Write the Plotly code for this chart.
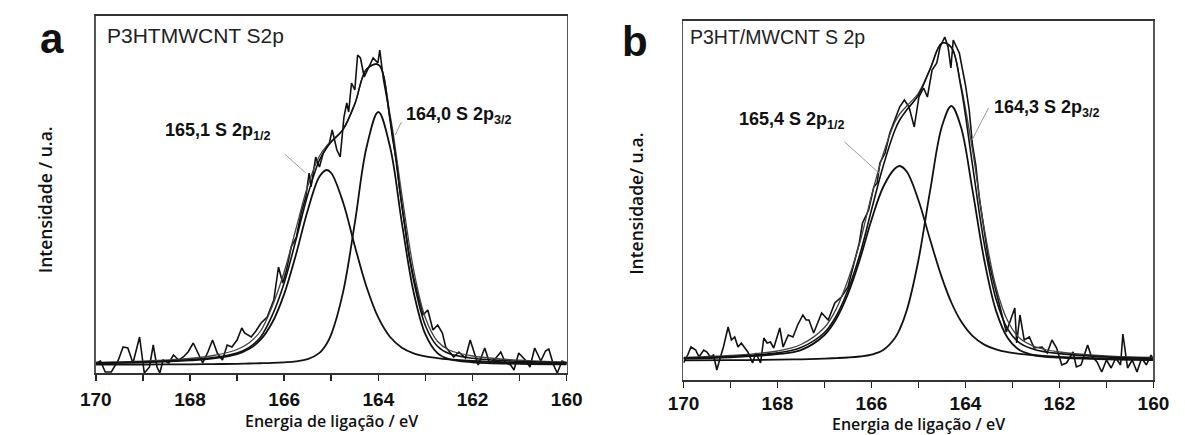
import plotly.graph_objects as go

# ---------------- Panel a : P3HTMWCNT S2p ----------------
E_A = [170, 169, 168, 167.5, 167, 166.75, 166.5, 166.25, 166, 165.75, 165.5, 165.25, 165.1, 165.0,
       164.75, 164.5, 164.25, 164.0, 163.75, 163.5, 163.25, 163.0, 162.75, 162.5, 162, 161, 160]
P1_A = [9.7, 10.6, 12.6, 14.6, 18.9, 23.9, 33.3, 50.7, 78.9, 118.3, 162.5, 196.4, 203, 200,
        170.8, 127.1, 86.0, 55.3, 36.0, 25.3, 19.7, 16.7, 14.9, 13.6, 12.0, 10.4, 9.5]
P2_A = [8.3, 8.5, 8.7, 8.9, 9.2, 9.5, 9.75, 10.1, 10.7, 11.6, 13.8, 20.1, 29, 38.6,
        80.6, 149.9, 225.8, 261, 225.8, 149.9, 80.6, 38.6, 20.1, 13.8, 10.7, 9.2, 8.7]
ENV_A = [10.0, 11.1, 13.3, 15.5, 20.1, 25.4, 36, 58, 90, 133, 178, 213, 225, 231,
         243.4, 269.0, 303.8, 308.3, 253.8, 167.2, 92.3, 47.3, 27.0, 19.4, 14.7, 11.6, 10.2]
ENV2_A = [10.5, 11.8, 14.5, 17.5, 23.5, 30, 42, 67, 101, 144, 187, 217, 227, 232,
          244, 269.2, 304, 308.5, 258, 178, 103, 55, 32, 23, 17, 12.8, 10.8]

DATA_E_A = [170.00, 169.90, 169.80, 169.67, 169.52, 169.42, 169.32, 169.21, 169.07, 168.97, 168.86,
            168.78, 168.70, 168.64, 168.57, 168.45, 168.35, 168.24, 168.14, 168.04, 167.93, 167.83,
            167.73, 167.62, 167.52, 167.42, 167.31, 167.21, 167.11, 167.00, 166.90, 166.84, 166.70,
            166.60, 166.49, 166.36, 166.22, 166.12, 166.03, 165.95, 165.85, 165.74, 165.64, 165.54,
            165.47, 165.43, 165.33, 165.25, 165.17, 165.04, 164.98, 164.88, 164.81, 164.73, 164.67,
            164.63, 164.57, 164.50, 164.44, 164.38, 164.30, 164.21, 164.11, 164.01, 163.97, 163.89,
            163.80, 163.70, 163.60, 163.55, 163.45, 163.35, 163.25, 163.15, 163.05, 162.95, 162.84,
            162.74, 162.64, 162.57, 162.40, 162.29, 162.15, 162.05, 161.95, 161.88, 161.74, 161.64,
            161.54, 161.40, 161.30, 161.19, 161.12, 161.02, 160.88, 160.78, 160.68, 160.55, 160.45,
            160.38, 160.28, 160.20, 160.10, 160.00]
DATA_I_A = [10, 12, 1, 1, 13, 26, 25, 10, 36, 0, 6,
            28, 6, 0, 13, 10, 18, 13, 16, 21, 30, 20,
            10, 21, 33, 20, 13, 28, 26, 33, 45, 40, 36,
            42, 50, 56, 73, 106, 90, 103, 126, 136, 160, 176,
            200, 186, 216, 206, 220, 230, 243, 223, 216, 256, 270,
            261, 290, 283, 318, 315, 296, 305, 315, 310, 323, 293,
            270, 235, 208, 185, 150, 118, 95, 75, 58, 63, 43,
            48, 40, 26, 16, 21, 15, 33, 18, 8, 25, 10,
            13, 21, 10, 8, 3, 20, 13, 6, 25, 12, 22,
            24, 8, 0, 12, 10]

# ---------------- Panel b : P3HT/MWCNT S 2p ----------------
E_B = [170, 169, 168, 167.5, 167, 166.75, 166.5, 166.25, 166, 165.75, 165.5, 165.4, 165.25, 165.0,
       164.75, 164.5, 164.3, 164.1, 163.85, 163.6, 163.35, 163.1, 162.85, 162.5, 162, 161, 160]
P1_B = [21.3, 22.7, 25.8, 29.9, 45, 61, 86, 120, 160, 193, 211.5, 214, 208.5, 179.8,
        140.0, 102.1, 77.5, 59.2, 44.1, 35.4, 30.6, 27.8, 26.1, 24.5, 23.1, 21.5, 20.7]
P2_B = [19.6, 19.8, 20.3, 20.7, 21.4, 21.9, 22.5, 23.5, 25.4, 30.0, 42.0, 50.5, 69.4, 120.0,
        189.8, 253.8, 274, 253.8, 189.8, 120.0, 69.4, 42.0, 30.0, 24.5, 22.3, 20.6, 20.0]
ENV_B = [21.9, 23.5, 27.1, 32.5, 47.5, 64, 90, 125, 170, 214, 250, 260, 270, 285,
         311, 336.9, 332.5, 294.0, 214.9, 136.4, 81.0, 50.8, 37.1, 30.0, 26.4, 23.1, 21.7]
ENV2_B = [22.5, 24.5, 29, 35.5, 52.5, 71, 100, 137, 184, 226, 258, 266, 274, 287,
          311.5, 337, 332.8, 296, 230, 151.5, 93, 59, 42, 33, 28, 24, 22.5]

DATA_E_B = [170.00, 169.91, 169.84, 169.74, 169.67, 169.57, 169.50, 169.43, 169.36, 169.29, 169.22,
            169.15, 169.05, 168.98, 168.91, 168.84, 168.77, 168.70, 168.63, 168.53, 168.46, 168.36,
            168.29, 168.22, 168.15, 168.08, 167.95, 167.88, 167.77, 167.67, 167.57, 167.46, 167.39,
            167.33, 167.26, 167.23, 167.06, 166.92, 166.78, 166.64, 166.50, 166.37, 166.26, 166.19,
            166.06, 165.95, 165.88, 165.82, 165.71, 165.61, 165.51, 165.40, 165.30, 165.20, 165.09,
            164.99, 164.89, 164.81, 164.71, 164.61, 164.54, 164.44, 164.37, 164.31, 164.26, 164.13,
            164.00, 163.92, 163.85, 163.78, 163.70, 163.60, 163.50, 163.40, 163.30, 163.20, 163.13,
            162.95, 162.91, 162.84, 162.75, 162.64, 162.54, 162.37, 162.26, 162.16, 162.06, 161.95,
            161.85, 161.71, 161.64, 161.54, 161.40, 161.33, 161.20, 161.10, 161.00, 160.90, 160.80,
            160.70, 160.65, 160.55, 160.45, 160.35, 160.25, 160.15, 160.05, 160.00]
DATA_I_B = [17, 25, 33, 30, 23, 30, 28, 23, 25, 10, 22,
            33, 53, 40, 43, 33, 37, 33, 28, 17, 27, 17,
            42, 37, 38, 32, 52, 33, 45, 43, 55, 65, 60,
            60, 50, 47, 67, 60, 77, 83, 93, 117, 137, 157,
            170, 193, 197, 217, 227, 247, 260, 273, 280, 273, 253,
            283, 292, 283, 310, 317, 333, 343, 333, 312, 340, 327,
            295, 270, 235, 215, 180, 148, 118, 98, 80, 62, 48,
            72, 37, 65, 40, 43, 32, 33, 27, 40, 32, 15,
            17, 28, 13, 15, 35, 25, 18, 8, 20, 12, 22,
            15, 46, 12, 20, 8, 22, 15, 25, 20]

X_TICKS = [170, 168, 166, 164, 162, 160]
X_MINOR = [169, 167, 165, 163, 161]
X_TITLE = "Energia de ligação / eV"
Y_TITLE_A = "Intensidade / u.a."
Y_TITLE_B = "Intensidade/ u.a."

W, H = 1185, 435


def px(x):
    return x / W


def py(y):
    return 1 - y / H


fig = go.Figure()
BLACK = "#111111"


def add_panel(xa, ya, E, P1, P2, ENV, ENV2, DE, DI):
    fig.add_trace(go.Scatter(x=DE, y=DI, mode="lines", line=dict(color=BLACK, width=1.6),
                             xaxis=xa, yaxis=ya, hoverinfo="skip"))
    fig.add_trace(go.Scatter(x=E, y=ENV2, mode="lines", line=dict(color="#444444", width=1.3, shape="spline"),
                             xaxis=xa, yaxis=ya, hoverinfo="skip"))
    fig.add_trace(go.Scatter(x=E, y=ENV, mode="lines", line=dict(color=BLACK, width=1.6, shape="spline"),
                             xaxis=xa, yaxis=ya, hoverinfo="skip"))
    fig.add_trace(go.Scatter(x=E, y=P1, mode="lines", line=dict(color=BLACK, width=1.8, shape="spline"),
                             xaxis=xa, yaxis=ya, hoverinfo="skip"))
    fig.add_trace(go.Scatter(x=E, y=P2, mode="lines", line=dict(color=BLACK, width=1.8, shape="spline"),
                             xaxis=xa, yaxis=ya, hoverinfo="skip"))


add_panel("x", "y", E_A, P1_A, P2_A, ENV_A, ENV2_A, DATA_E_A, DATA_I_A)
add_panel("x2", "y2", E_B, P1_B, P2_B, ENV_B, ENV2_B, DATA_E_B, DATA_I_B)

tickfont = dict(family="Liberation Sans, Arial, sans-serif", size=19, color=BLACK, weight="bold")


def xaxis_cfg(domain, anchor, standoff):
    return dict(domain=domain, anchor=anchor, range=[170, 160], tickvals=X_TICKS,
                ticks="outside", ticklen=6, tickwidth=1.5, tickcolor="#222", ticklabelstandoff=standoff,
                minor=dict(tickvals=X_MINOR, ticks="outside", ticklen=6,
                           tickwidth=1.5, tickcolor="#222"),
                showline=True, linecolor="#333", linewidth=1.6, mirror=True,
                showgrid=False, zeroline=False, tickfont=tickfont, fixedrange=True)


def yaxis_cfg(domain, anchor, rng):
    return dict(domain=domain, anchor=anchor, range=rng, showticklabels=False, ticks="",
                showline=True, linecolor="#555", linewidth=1.6, mirror=True,
                showgrid=False, zeroline=False, fixedrange=True)


fig.update_layout(
    width=W, height=H, margin=dict(l=0, r=0, t=0, b=0),
    paper_bgcolor="white", plot_bgcolor="white", showlegend=False,
    xaxis=xaxis_cfg([px(82), px(566)], "y", 3),
    yaxis=yaxis_cfg([py(373), py(16)], "x", [0, 357]),
    xaxis2=xaxis_cfg([px(686), px(1169)], "y2", 0),
    yaxis2=yaxis_cfg([py(380), py(21)], "x2", [0, 359]),
)

ann = []
big = dict(family="Liberation Sans, Arial, sans-serif", size=42, color=BLACK, weight="bold")
ann.append(dict(text="a", x=px(37), y=py(39), xref="paper", yref="paper", showarrow=False,
                font=big, xanchor="center", yanchor="middle"))
ann.append(dict(text="b", x=px(636), y=py(41), xref="paper", yref="paper", showarrow=False,
                font=big, xanchor="center", yanchor="middle"))

ttl = dict(family="Liberation Sans, Arial, sans-serif", size=21, color="#222")
ann.append(dict(text="P3HTMWCNT S2p", x=px(91), y=py(36), xref="paper", yref="paper", showarrow=False,
                font=ttl, xanchor="left", yanchor="middle"))
ann.append(dict(text="P3HT/MWCNT S 2p", x=px(691), y=py(37), xref="paper", yref="paper", showarrow=False,
                font=dict(ttl, size=19.5), xanchor="left", yanchor="middle"))

lab = dict(family="Liberation Sans, Arial, sans-serif", size=18, color=BLACK)
ann.append(dict(text="<b>165,1 S 2p<sub>1/2</sub></b>", x=px(151), y=py(131), xref="paper", yref="paper",
                showarrow=False, font=lab, xanchor="left", yanchor="middle"))
ann.append(dict(text="<b>164,0 S 2p<sub>3/2</sub></b>", x=px(399), y=py(116), xref="paper", yref="paper",
                showarrow=False, font=lab, xanchor="left", yanchor="middle"))
ann.append(dict(text="<b>165,4 S 2p<sub>1/2</sub></b>", x=px(741), y=py(120), xref="paper", yref="paper",
                showarrow=False, font=lab, xanchor="left", yanchor="middle"))
ann.append(dict(text="<b>164,3 S 2p<sub>3/2</sub></b>", x=px(1003), y=py(108), xref="paper", yref="paper",
                showarrow=False, font=lab, xanchor="left", yanchor="middle"))

axt = dict(family="Open Sans, sans-serif", size=16, color="#111", weight=600)
ayt = dict(axt, size=17.5)
ann.append(dict(text=X_TITLE, x=px(324), y=py(421), xref="paper", yref="paper", showarrow=False,
                font=axt, xanchor="center", yanchor="middle"))
ann.append(dict(text=X_TITLE, x=px(928), y=py(423.5), xref="paper", yref="paper", showarrow=False,
                font=axt, xanchor="center", yanchor="middle"))
ann.append(dict(text=Y_TITLE_A, x=px(30), y=py(200), xref="paper", yref="paper", showarrow=False,
                font=ayt, textangle=-90, xanchor="center", yanchor="middle"))
ann.append(dict(text=Y_TITLE_B, x=px(637), y=py(204), xref="paper", yref="paper", showarrow=False,
                font=ayt, textangle=-90, xanchor="center", yanchor="middle"))

fig.update_layout(annotations=ann)

leader = dict(color="#9a9a9a", width=1)
fig.add_shape(type="line", xref="x", yref="y", x0=165.99, y0=219, x1=165.54, y1=200, line=leader)
fig.add_shape(type="line", xref="x", yref="y", x0=163.51, y0=251, x1=163.64, y1=238, line=leader)
fig.add_shape(type="line", xref="x2", yref="y2", x0=166.57, y0=238, x1=165.84, y1=207, line=leader)
fig.add_shape(type="line", xref="x2", yref="y2", x0=163.51, y0=272, x1=163.86, y1=240, line=leader)

fig.write_html("out.html",
               config={"displayModeBar": False, "staticPlot": True},
               post_script="document.body.style.margin='0px';document.body.style.overflow='hidden';")
